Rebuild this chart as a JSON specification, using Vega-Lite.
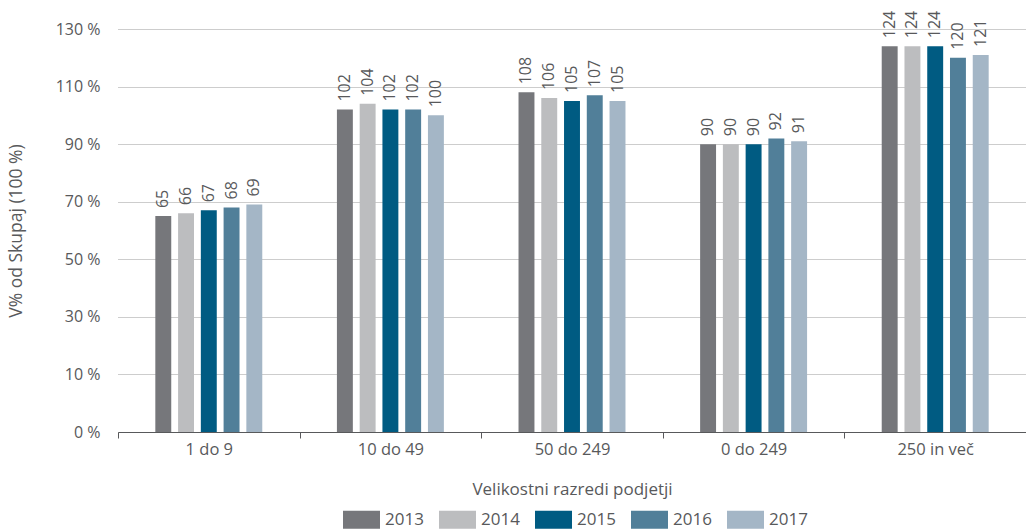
{
  "$schema": "https://vega.github.io/schema/vega-lite/v6.json",
  "width": 908,
  "height": 403,
  "autosize": {"type": "none"},
  "padding": {"left": 118, "top": 29, "right": 0, "bottom": 99},
  "background": "white",
  "config": {
    "view": {"stroke": null},
    "font": "Open Sans",
    "axis": {"labelFont": "Open Sans", "titleFont": "Open Sans", "labelColor": "#58595b", "titleColor": "#58595b", "labelFontWeight": "normal", "titleFontWeight": "normal"},
    "legend": {"labelFont": "Open Sans", "labelColor": "#58595b"}
  },
  "data": {
    "values": [
      {"razred": "1 do 9", "leto": "2013", "vrednost": 65},
      {"razred": "1 do 9", "leto": "2014", "vrednost": 66},
      {"razred": "1 do 9", "leto": "2015", "vrednost": 67},
      {"razred": "1 do 9", "leto": "2016", "vrednost": 68},
      {"razred": "1 do 9", "leto": "2017", "vrednost": 69},
      {"razred": "10 do 49", "leto": "2013", "vrednost": 102},
      {"razred": "10 do 49", "leto": "2014", "vrednost": 104},
      {"razred": "10 do 49", "leto": "2015", "vrednost": 102},
      {"razred": "10 do 49", "leto": "2016", "vrednost": 102},
      {"razred": "10 do 49", "leto": "2017", "vrednost": 100},
      {"razred": "50 do 249", "leto": "2013", "vrednost": 108},
      {"razred": "50 do 249", "leto": "2014", "vrednost": 106},
      {"razred": "50 do 249", "leto": "2015", "vrednost": 105},
      {"razred": "50 do 249", "leto": "2016", "vrednost": 107},
      {"razred": "50 do 249", "leto": "2017", "vrednost": 105},
      {"razred": "0 do 249", "leto": "2013", "vrednost": 90},
      {"razred": "0 do 249", "leto": "2014", "vrednost": 90},
      {"razred": "0 do 249", "leto": "2015", "vrednost": 90},
      {"razred": "0 do 249", "leto": "2016", "vrednost": 92},
      {"razred": "0 do 249", "leto": "2017", "vrednost": 91},
      {"razred": "250 in več", "leto": "2013", "vrednost": 124},
      {"razred": "250 in več", "leto": "2014", "vrednost": 124},
      {"razred": "250 in več", "leto": "2015", "vrednost": 124},
      {"razred": "250 in več", "leto": "2016", "vrednost": 120},
      {"razred": "250 in več", "leto": "2017", "vrednost": 121}
    ]
  },
  "encoding": {
    "x": {
      "field": "razred",
      "type": "nominal",
      "sort": ["1 do 9", "10 do 49", "50 do 249", "0 do 249", "250 in več"],
      "scale": {"paddingInner": 0, "paddingOuter": 0},
      "axis": {
        "title": "Velikostni razredi podjetji",
        "titleFontSize": 17,
        "titlePadding": 24,
        "labelFontSize": 16.5,
        "labelAngle": 0,
        "labelPadding": 3,
        "tickBand": "extent",
        "tickSize": 6,
        "tickColor": "#58595b",
        "domainColor": "#58595b",
        "grid": false
      }
    },
    "xOffset": {
      "field": "leto",
      "type": "nominal",
      "scale": {
        "domain": ["rob-levo", "2013", "2014", "2015", "2016", "2017", "rob-desno"],
        "paddingInner": 0.3,
        "paddingOuter": 0.64
      }
    }
  },
  "layer": [
    {
      "mark": {"type": "bar"},
      "encoding": {
        "y": {
          "field": "vrednost",
          "type": "quantitative",
          "scale": {"domain": [-10, 130], "nice": false, "zero": false},
          "axis": {
            "title": "V% od Skupaj (100 %)",
            "titleFontSize": 17.5,
            "titleX": -101.5,
            "titleAngle": 270,
            "titleBaseline": "middle",
            "labelFontSize": 16,
            "labelPadding": 18,
            "values": [-10, 10, 30, 50, 70, 90, 110, 130],
            "labelExpr": "datum.value == -10 ? '0 %' : datum.value + ' %'",
            "domain": false,
            "ticks": false,
            "gridColor": "#9a9a9a",
            "gridDash": [1, 1],
            "gridWidth": 1
          }
        },
        "y2": {"datum": -10},
        "color": {
          "field": "leto",
          "type": "nominal",
          "scale": {
            "domain": ["2013", "2014", "2015", "2016", "2017"],
            "range": ["#76777b", "#bcbdbf", "#005b82", "#517f99", "#a4b6c6"]
          },
          "legend": {
            "title": null,
            "orient": "none",
            "direction": "horizontal",
            "legendX": 225,
            "legendY": 472,
            "padding": 0,
            "symbolType": "M-1,-0.49H1V0.49H-1Z",
            "symbolSize": 1369,
            "symbolStrokeWidth": 0,
            "labelFontSize": 17,
            "labelOffset": 5,
            "columnPadding": 15
          }
        }
      }
    },
    {
      "mark": {"type": "text", "angle": 270, "align": "left", "baseline": "middle", "dx": 8, "fontSize": 16, "color": "#58595b"},
      "encoding": {
        "y": {"field": "vrednost", "type": "quantitative"},
        "text": {"field": "vrednost", "type": "quantitative"}
      }
    }
  ]
}
